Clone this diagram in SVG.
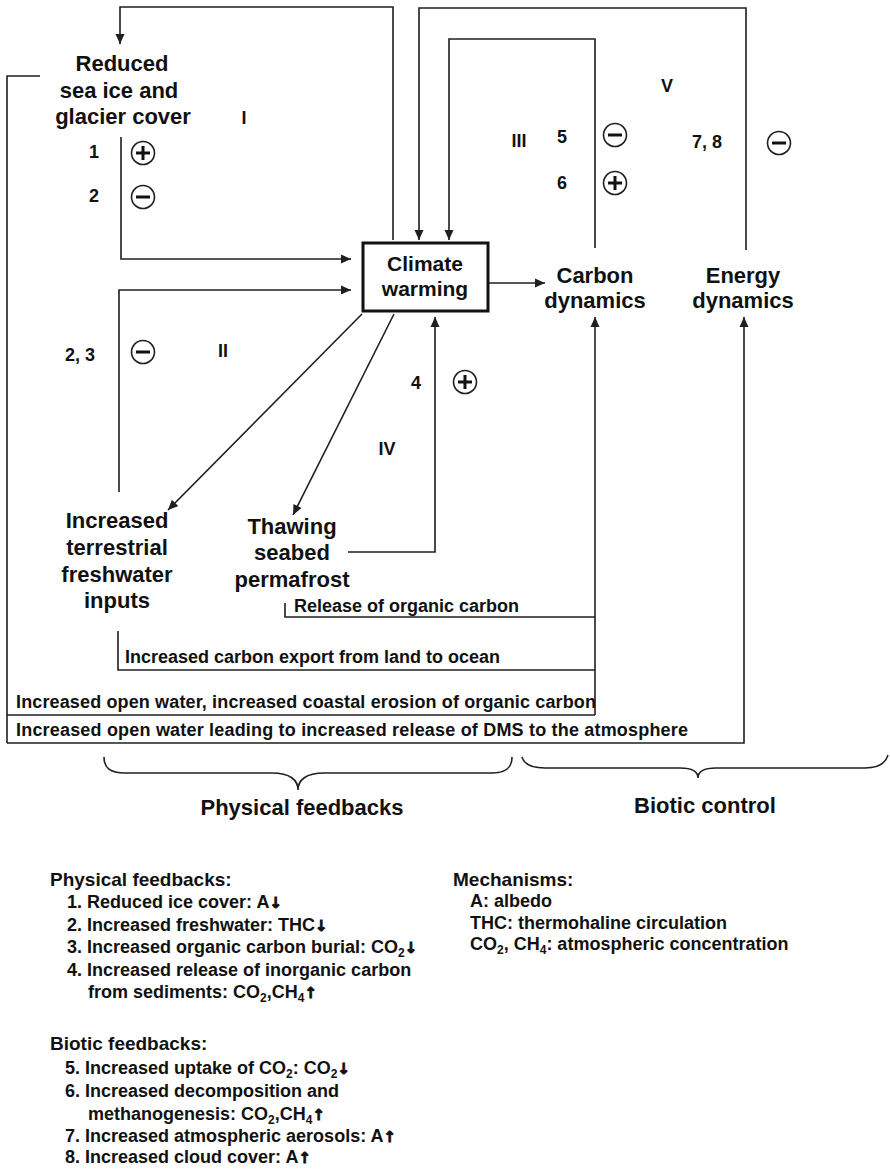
<svg xmlns="http://www.w3.org/2000/svg" xmlns:xlink="http://www.w3.org/1999/xlink" width="890" height="1169" viewBox="0 0 890 1169">
<style>
  .ln { fill:none; stroke:#1f1f1f; stroke-width:1.6; }
  .ar { marker-end:url(#ah); }
  .t22 { font-family:"Liberation Sans", Arial, sans-serif; font-weight:bold; font-size:22px; fill:#111; text-anchor:middle; }
  .t21 { font-family:"Liberation Sans", Arial, sans-serif; font-weight:bold; font-size:21px; fill:#111; text-anchor:middle; }
  .num { font-family:"Liberation Sans", Arial, sans-serif; font-weight:bold; font-size:18px; fill:#111; text-anchor:middle; }
  .lab { font-family:"Liberation Sans", Arial, sans-serif; font-weight:bold; font-size:18px; fill:#111; }
  .hd { font-family:"Liberation Sans", Arial, sans-serif; font-weight:bold; font-size:19px; fill:#111; }
  .sub { font-size:12px; }
  .arw { font-family:"DejaVu Sans", sans-serif; font-weight:bold; font-size:15px; stroke:#111; stroke-width:0.9; }
</style>
<defs>
  <marker id="ah" viewBox="0 0 10 10" refX="10" refY="5" markerWidth="11" markerHeight="10" markerUnits="userSpaceOnUse" orient="auto">
    <path d="M0,0.5 L10,5 L0,9.5 z" fill="#1f1f1f"/>
  </marker>
  <g id="plus">
    <circle r="11.5" fill="none" stroke="#1f1f1f" stroke-width="1.6"/>
    <path d="M-7,0 H7 M0,-7 V7" stroke="#111" stroke-width="3"/>
  </g>
  <g id="minus">
    <circle r="11.5" fill="none" stroke="#1f1f1f" stroke-width="1.6"/>
    <path d="M-7,0 H7" stroke="#111" stroke-width="3"/>
  </g>
</defs>
<rect width="890" height="1169" fill="#fff"/>

<g id="connectors">
  <path class="ln ar" d="M393,240 V7 H120 V44"/>
  <path class="ln ar" d="M121,137 V259 H351"/>
  <path class="ln ar" d="M119,492 V290 H351"/>
  <path class="ln ar" d="M746,250 V8 H419 V240"/>
  <path class="ln ar" d="M595,248 V39 H449 V240"/>
  <path class="ln ar" d="M489,283 H545"/>
  <path class="ln ar" d="M362,314 L168,510"/>
  <path class="ln ar" d="M394,314 L293,515"/>
  <path class="ln ar" d="M348,552 H435 V317"/>
  <path class="ln" d="M40,76 H7 V743"/>
  <path class="ln" d="M285,603 V617 H595"/>
  <path class="ln" d="M118,631 V670 H595"/>
  <path class="ln" d="M7,715 H595"/>
  <path class="ln ar" d="M595,715 V317"/>
  <path class="ln ar" d="M7,743 H744 V317"/>
  <path class="ln" d="M104,757 C104,768 110,773 125,773 H272 C290,773 298,780 298,790 C298,780 306,773 324,773 H492 C506,773 512,768 512,757"/>
  <path class="ln" d="M522,757 C524,764 530,768 545,768 H680 C692,768 698,772 698,778 C698,772 704,768 716,768 H865 C880,768 886,762 888,755"/>
</g>

<g id="node-sea-ice">
  <text class="t22" x="122" y="71">Reduced</text>
  <text class="t22" x="119" y="98">sea ice and</text>
  <text class="t22" x="123" y="124">glacier cover</text>
</g>
<g id="node-climate">
  <rect x="363" y="243" width="125" height="68" fill="#fff" stroke="#111" stroke-width="3"/>
  <text class="t21" x="425" y="271">Climate</text>
  <text class="t21" x="425" y="296">warming</text>
</g>
<g id="node-carbon">
  <text class="t22" x="595" y="283">Carbon</text>
  <text class="t22" x="595" y="308">dynamics</text>
</g>
<g id="node-energy">
  <text class="t22" x="743" y="283">Energy</text>
  <text class="t22" x="743" y="308">dynamics</text>
</g>
<g id="node-freshwater">
  <text class="t22" x="117" y="528">Increased</text>
  <text class="t22" x="117" y="555">terrestrial</text>
  <text class="t22" x="117" y="582">freshwater</text>
  <text class="t22" x="117" y="608">inputs</text>
</g>
<g id="node-seabed">
  <text class="t22" x="292" y="534">Thawing</text>
  <text class="t22" x="292" y="560">seabed</text>
  <text class="t22" x="292" y="587">permafrost</text>
</g>

<g id="loop-labels">
  <text class="num" x="244" y="124">I</text>
  <text class="num" x="223" y="357">II</text>
  <text class="num" x="519" y="147">III</text>
  <text class="num" x="387" y="455">IV</text>
  <text class="num" x="667" y="92">V</text>
  <text class="num" x="94" y="158">1</text>
  <text class="num" x="94" y="202">2</text>
  <text class="num" x="80" y="361">2, 3</text>
  <text class="num" x="416" y="389">4</text>
  <text class="num" x="562" y="143">5</text>
  <text class="num" x="562" y="189">6</text>
  <text class="num" x="707" y="148">7, 8</text>
  <use xlink:href="#plus" x="143" y="153"/>
  <use xlink:href="#minus" x="143" y="197"/>
  <use xlink:href="#minus" x="143" y="352"/>
  <use xlink:href="#plus" x="465" y="382"/>
  <use xlink:href="#minus" x="615" y="135"/>
  <use xlink:href="#plus" x="615" y="183"/>
  <use xlink:href="#minus" x="779" y="143"/>
</g>

<g id="flow-labels">
  <text class="lab" x="294" y="612">Release of organic carbon</text>
  <text class="lab" x="125" y="663">Increased carbon export from land to ocean</text>
  <text class="lab" x="16" y="708" textLength="580" lengthAdjust="spacing">Increased open water, increased coastal erosion of organic carbon</text>
  <text class="lab" x="16" y="736" textLength="672" lengthAdjust="spacing">Increased open water leading to increased release of DMS to the atmosphere</text>
</g>

<g id="brace-labels">
  <text class="t22" x="302" y="815">Physical feedbacks</text>
  <text class="t22" x="705" y="813">Biotic control</text>
</g>

<g id="legend-physical">
  <text class="hd" x="50" y="886">Physical feedbacks:</text>
  <text class="lab" x="67" y="908">1. Reduced ice cover: A<tspan class="arw">↓</tspan></text>
  <text class="lab" x="67" y="931">2. Increased freshwater: THC<tspan class="arw">↓</tspan></text>
  <text class="lab" x="67" y="953">3. Increased organic carbon burial: CO<tspan class="sub" dy="4">2</tspan><tspan class="arw" dy="-4">↓</tspan></text>
  <text class="lab" x="67" y="976">4. Increased release of inorganic carbon</text>
  <text class="lab" x="88" y="998">from sediments: CO<tspan class="sub" dy="4">2</tspan><tspan dy="-4">,CH</tspan><tspan class="sub" dy="4">4</tspan><tspan class="arw" dy="-4">↑</tspan></text>
</g>
<g id="legend-biotic">
  <text class="hd" x="50" y="1050">Biotic feedbacks:</text>
  <text class="lab" x="65" y="1074">5. Increased uptake of CO<tspan class="sub" dy="4">2</tspan><tspan dy="-4">: CO</tspan><tspan class="sub" dy="4">2</tspan><tspan class="arw" dy="-4">↓</tspan></text>
  <text class="lab" x="65" y="1097">6. Increased decomposition and</text>
  <text class="lab" x="88" y="1120">methanogenesis: CO<tspan class="sub" dy="4">2</tspan><tspan dy="-4">,CH</tspan><tspan class="sub" dy="4">4</tspan><tspan class="arw" dy="-4">↑</tspan></text>
  <text class="lab" x="65" y="1142">7. Increased atmospheric aerosols: A<tspan class="arw">↑</tspan></text>
  <text class="lab" x="65" y="1163">8. Increased cloud cover: A<tspan class="arw">↑</tspan></text>
</g>
<g id="legend-mechanisms">
  <text class="hd" x="453" y="886">Mechanisms:</text>
  <text class="lab" x="470" y="907">A: albedo</text>
  <text class="lab" x="470" y="929">THC: thermohaline circulation</text>
  <text class="lab" x="470" y="950">CO<tspan class="sub" dy="4">2</tspan><tspan dy="-4">, CH</tspan><tspan class="sub" dy="4">4</tspan><tspan dy="-4">: atmospheric concentration</tspan></text>
</g>
</svg>
